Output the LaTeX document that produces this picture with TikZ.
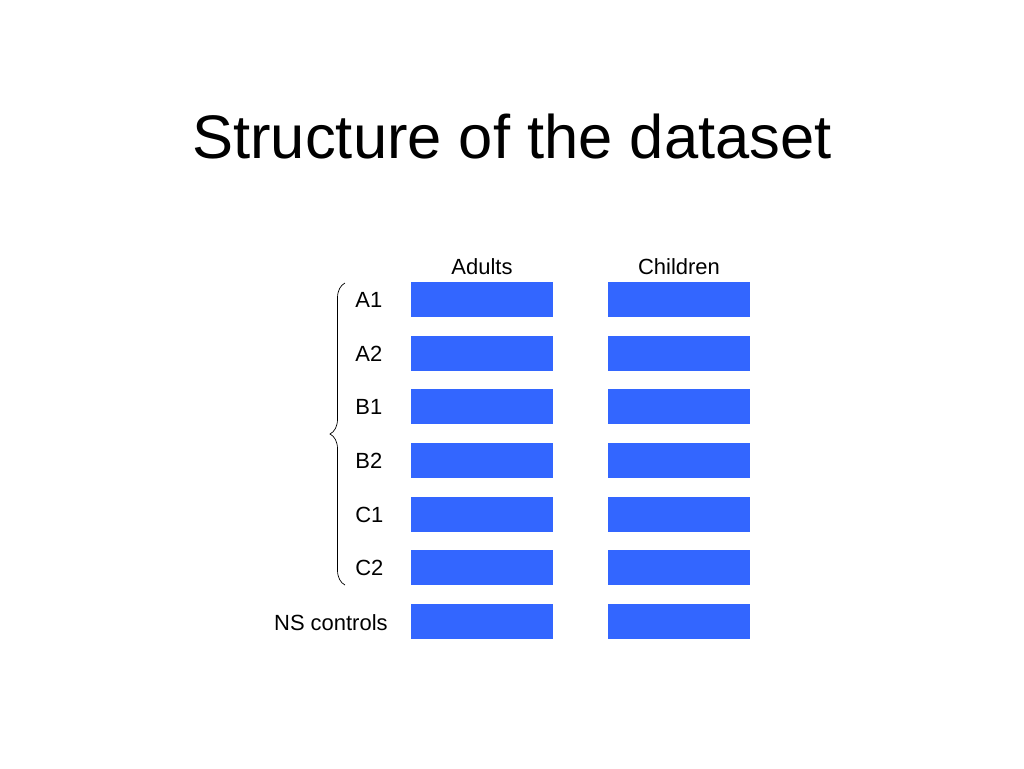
\documentclass[tikz,border=0pt]{standalone}
\usepackage{fontspec}
\setmainfont{Liberation Sans}
\usetikzlibrary{positioning, decorations.pathreplacing}
\definecolor{barblue}{HTML}{3366FF}
\tikzset{bar/.style={rectangle, fill=barblue, minimum width=2.84cm, minimum height=0.7cm, inner sep=0pt},
  label/.style={font=\fontsize{12.5}{14}\selectfont, inner sep=0pt}}
\begin{document}
\begin{tikzpicture}[x=0.02cm, y=-0.02cm]
\useasboundingbox (0,0) rectangle (1024,768);

\node (title) at (512,137) {\fontsize{35}{40}\selectfont Structure of the dataset};
\node (adults) [label] at (482,267) {Adults};
\node (children) [label] at (679,267) {Children};

\foreach \name/\y in {A1/299.5, A2/353.5, B1/406.5, B2/460.5, C1/514.5, C2/567.5}{
  \node (a\name) [bar] at (482,\y) {};
  \node (c\name) [bar] at (679,\y) {};
  \node (l\name) [label, anchor=west] at (355,\y) {\name};
}
\node (ans) [bar] at (482,621.5) {};
\node (cns) [bar] at (679,621.5) {};
\node (lns) [label, anchor=east] at (388,623) {NS controls};

\coordinate (bracetop) at (345,283);
\coordinate (bracebot) at (345,585);
\draw [decorate, decoration={brace, amplitude=0.3cm}] (bracebot) -- (bracetop);
\end{tikzpicture}
\end{document}
